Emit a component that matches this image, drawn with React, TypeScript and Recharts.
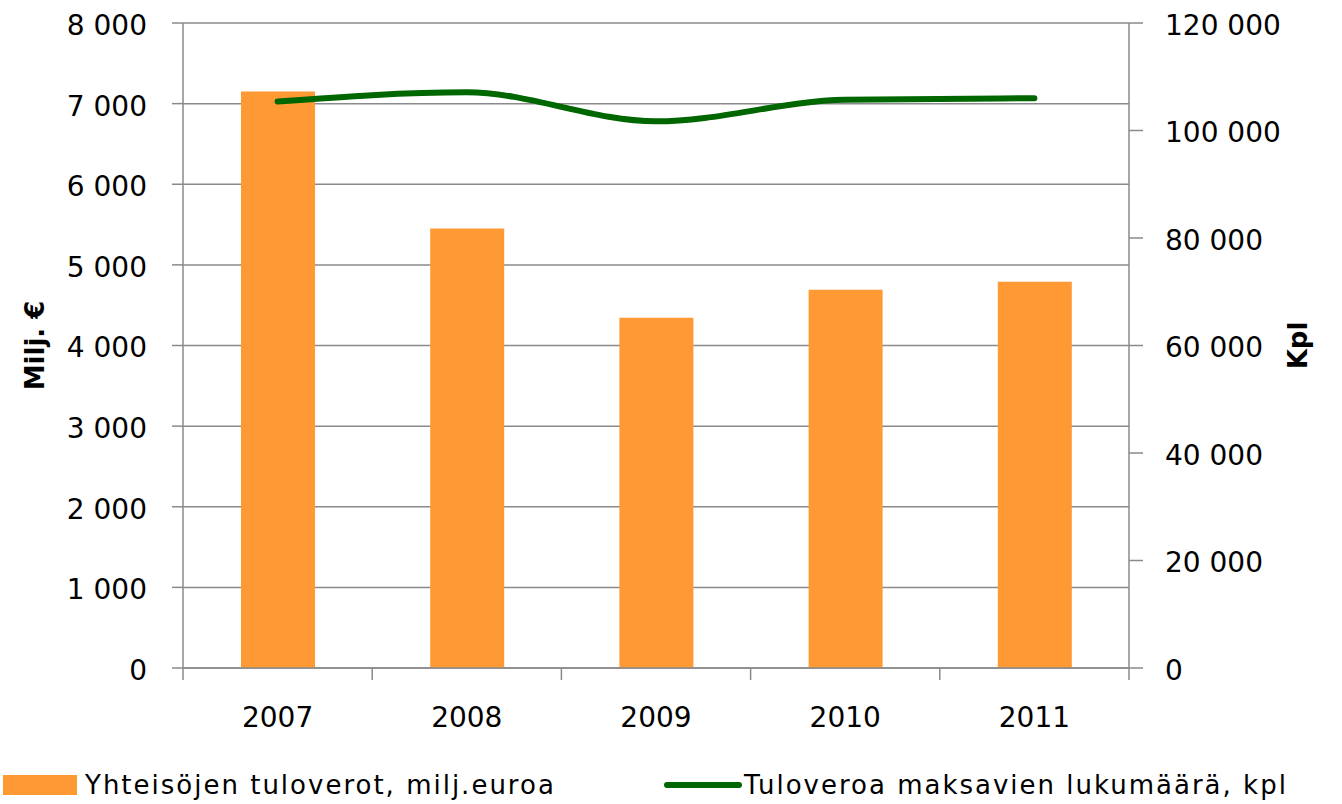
import React from 'react';
import { ComposedChart, Bar, Line, XAxis, YAxis, CartesianGrid, Legend, Label } from 'recharts';

const years = ['2007', '2008', '2009', '2010', '2011'];
const taxes = [7150, 5450, 4345, 4690, 4790];
const payers = [105400, 107100, 101700, 105700, 106000];
const leftTicks = [0, 1000, 2000, 3000, 4000, 5000, 6000, 7000, 8000];
const rightTicks = [0, 20000, 40000, 60000, 80000, 100000, 120000];

const barName = 'Yhteisöjen tuloverot, milj.euroa';
const lineName = 'Tuloveroa maksavien lukumäärä, kpl';

const data = years.map((y, i) => ({ year: y, taxes: taxes[i], payers: payers[i] }));

const fmt = (v: number) => {
  const s = String(v);
  return s.replace(/\B(?=(\d{3})+(?!\d))/g, ' ');
};

const FONT = '"DejaVu Sans", Verdana, sans-serif';
const GRAY = '#8a8a8a';
const ORANGE = '#FF9933';
const GREEN = '#006600';

// Category tick: label at the band centre, tick marks at the band boundaries (Excel style)
const CatTick = (props: any) => {
  const { x, y, payload, index, visibleTicksCount } = props;
  const half = payload && typeof payload.offset === 'number' && payload.offset > 0 ? payload.offset : 94.6;
  const last = index === (visibleTicksCount ?? years.length) - 1;
  return (
    <g>
      <line x1={x - half} x2={x - half} y1={y} y2={y + 12} stroke={GRAY} strokeWidth={1.5} />
      {last && <line x1={x + half} x2={x + half} y1={y} y2={y + 12} stroke={GRAY} strokeWidth={1.5} />}
      <text x={x} y={y + 39} dy="0.71em" textAnchor="middle" fontFamily={FONT} fontSize={28} fill="#000">
        {payload.value}
      </text>
    </g>
  );
};

const LegendContent = () => (
  <div style={{ position: 'relative', width: 1342, height: 36, fontFamily: FONT, fontSize: 26, letterSpacing: 2, color: '#000' }}>
    <div style={{ position: 'absolute', left: 3, top: 7, width: 74, height: 20, background: ORANGE }} />
    <div style={{ position: 'absolute', left: 85, top: 0, lineHeight: '34px', whiteSpace: 'nowrap' }}>{barName}</div>
    <div style={{ position: 'absolute', left: 664, top: 14, width: 78, height: 6, borderRadius: 3, background: GREEN }} />
    <div style={{ position: 'absolute', left: 744, top: 0, lineHeight: '34px', whiteSpace: 'nowrap' }}>{lineName}</div>
  </div>
);

export default function App() {
  const tickStyle = { fontFamily: FONT, fontSize: 28, fill: '#000' };
  return (
    <div style={{ position: 'absolute', left: 0, top: 0, width: 1342, height: 804, background: '#fff' }}>
      <ComposedChart width={1342} height={804} data={data} margin={{ top: 23, right: 0, bottom: 0, left: 0 }}>
        <CartesianGrid yAxisId="left" vertical={false} stroke={GRAY} strokeWidth={1.5} />
        <XAxis
          xAxisId="cat"
          dataKey="year"
          height={100}
          axisLine={{ stroke: GRAY, strokeWidth: 1.5 }}
          tickLine={false}
          tickSize={0}
          tickMargin={0}
          interval={0}
          tick={CatTick}
        />
        <YAxis
          yAxisId="left"
          width={183}
          domain={[0, 8000]}
          ticks={leftTicks}
          tickFormatter={fmt}
          tickSize={11}
          tickMargin={25}
          tick={{ ...tickStyle, dy: 2 }}
          axisLine={{ stroke: GRAY, strokeWidth: 1.5 }}
          tickLine={{ stroke: GRAY, strokeWidth: 1.5 }}
        >
          <Label value="Milj. €" angle={-90} position="center" dx={-57} style={{ fontFamily: FONT, fontSize: 26, fontWeight: 'bold', fill: '#000' }} />
        </YAxis>
        <YAxis
          yAxisId="right"
          orientation="right"
          width={213}
          domain={[0, 120000]}
          ticks={rightTicks}
          tickFormatter={fmt}
          tickSize={14}
          tickMargin={22}
          tick={{ ...tickStyle, dy: 2 }}
          axisLine={{ stroke: GRAY, strokeWidth: 1.5 }}
          tickLine={{ stroke: GRAY, strokeWidth: 1.5 }}
        >
          <Label value="Kpl" angle={-90} position="center" dx={62} style={{ fontFamily: FONT, fontSize: 26, fontWeight: 'bold', fill: '#000' }} />
        </YAxis>
        <Bar xAxisId="cat" yAxisId="left" dataKey="taxes" name={barName} fill={ORANGE} barSize={74} isAnimationActive={false} />
        <Line
          xAxisId="cat"
          yAxisId="right"
          dataKey="payers"
          name={lineName}
          type="monotone"
          stroke={GREEN}
          strokeWidth={6}
          strokeLinecap="round"
          dot={false}
          activeDot={false}
          isAnimationActive={false}
        />
        <Legend verticalAlign="bottom" align="left" content={() => <LegendContent />} wrapperStyle={{ left: 0, width: 1342, height: 36 }} />
      </ComposedChart>
    </div>
  );
}
